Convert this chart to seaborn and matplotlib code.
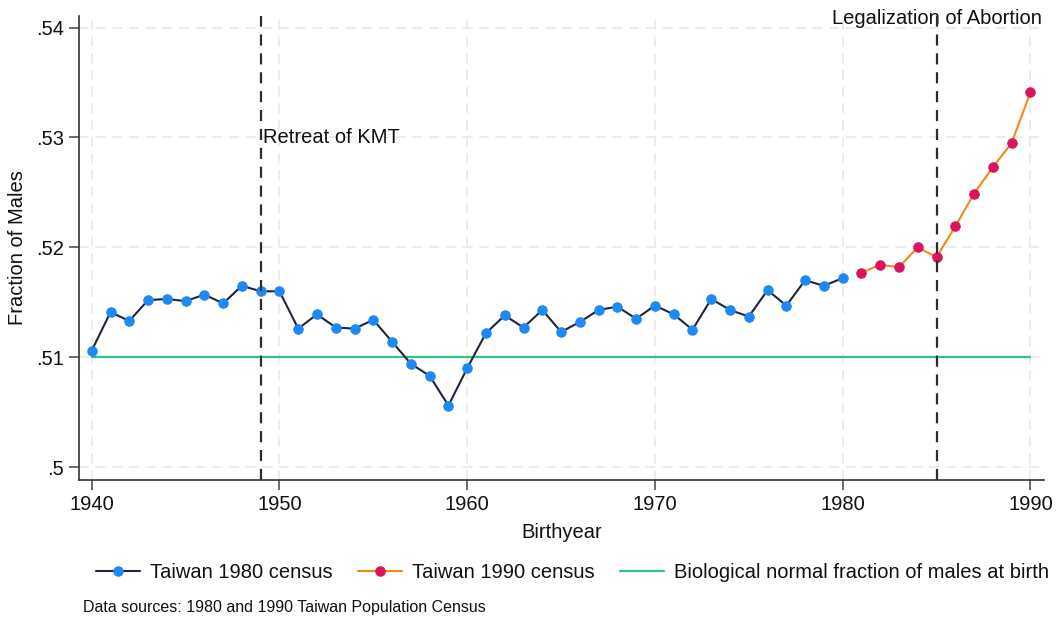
import matplotlib
matplotlib.use("Agg")
import matplotlib.pyplot as plt
import seaborn as sns
import pandas as pd
import numpy as np

years_1980 = list(range(1940, 1981))
frac_1980 = [0.5106, 0.5141, 0.5133, 0.5152, 0.5153, 0.5151, 0.5157, 0.5149, 0.5165, 0.5160,
             0.5160, 0.5126, 0.5139, 0.5127, 0.5126, 0.5134, 0.5114, 0.5094, 0.5083, 0.5056,
             0.5090, 0.5122, 0.5138, 0.5127, 0.5143, 0.5123, 0.5132, 0.5143, 0.5146, 0.5135,
             0.5147, 0.5139, 0.5125, 0.5153, 0.5143, 0.5137, 0.5161, 0.5147, 0.5170, 0.5165,
             0.5172]
years_1990 = list(range(1981, 1991))
frac_1990 = [0.5177, 0.5184, 0.5182, 0.5200, 0.5191, 0.5219, 0.5249, 0.5273, 0.5295, 0.5341]
bio_years = [1940, 1990]
bio_frac = [0.51, 0.51]

x_ticks = [1940, 1950, 1960, 1970, 1980, 1990]
y_ticks = [0.50, 0.51, 0.52, 0.53, 0.54]
y_tick_labels = [".5", ".51", ".52", ".53", ".54"]
event_years = [1949, 1985]
event_labels = ["Retreat of KMT", "Legalization of Abortion"]

sns.set_style("white")
plt.rcParams['font.family'] = ['Liberation Sans', 'DejaVu Sans']
TXT = "#111111"
FS = 14.5

fig = plt.figure(figsize=(10.6, 6.22), dpi=100)
ax = fig.add_axes([0.0745, 0.2283, 0.9105, 0.7465])

# grid
for xt in x_ticks:
    ax.axvline(xt, color="#e9e9e9", lw=1.2, ls=(0, (6, 4)), zorder=0)
for yt in y_ticks:
    ax.axhline(yt, color="#e9e9e9", lw=1.2, ls=(0, (6, 4)), zorder=0)

df80 = pd.DataFrame({"year": years_1980, "frac": frac_1980})
df90 = pd.DataFrame({"year": years_1990, "frac": frac_1990})
dfbio = pd.DataFrame({"year": bio_years, "frac": bio_frac})

sns.lineplot(data=dfbio, x="year", y="frac", ax=ax, color="#35bf8b", lw=1.6, zorder=2,
             label="Biological normal fraction of males at birth")
sns.lineplot(data=df80, x="year", y="frac", ax=ax, color="#1c2541", lw=1.5, marker="o",
             markersize=6.8, markerfacecolor="#1e88f5", markeredgecolor="#1e88f5", zorder=3,
             label="Taiwan 1980 census")
sns.lineplot(data=df90, x="year", y="frac", ax=ax, color="#ee8a17", lw=1.5, marker="o",
             markersize=6.8, markerfacecolor="#d8155c", markeredgecolor="#d8155c", zorder=3,
             label="Taiwan 1990 census")

for ey in event_years:
    ax.axvline(ey, color="#2b2b2b", lw=1.6, ls=(0, (5, 3.5)), zorder=4)

ax.text(event_years[0] + 0.1, 0.53, event_labels[0], fontsize=FS, ha="left", va="center",
        color=TXT)
ax.text(event_years[1], 0.5408, event_labels[1], fontsize=FS, ha="center", va="center",
        color=TXT)

ax.set_xlim(1939.32, 1990.73)
ax.set_ylim(0.49882, 0.54109)
ax.set_xticks(x_ticks)
ax.set_xticklabels([str(t) for t in x_ticks], fontsize=FS, color=TXT)
ax.set_yticks(y_ticks)
ax.set_yticklabels(y_tick_labels, fontsize=FS, color=TXT)
ax.tick_params(axis="both", direction="out", length=7, width=1.1, color="#444444",
               left=True, bottom=True, pad=4)
ax.set_xlabel("Birthyear", fontsize=FS, labelpad=6, color=TXT)
ax.set_ylabel("Fraction of Males", fontsize=FS, color=TXT)
ax.yaxis.set_label_coords(-0.054, 0.5)

for s in ["top", "right"]:
    ax.spines[s].set_visible(False)
for s in ["left", "bottom"]:
    ax.spines[s].set_color("#333333")
    ax.spines[s].set_linewidth(1.2)

handles, labels = ax.get_legend_handles_labels()
ax.get_legend().remove()
order = [labels.index("Taiwan 1980 census"), labels.index("Taiwan 1990 census"),
         labels.index("Biological normal fraction of males at birth")]
leg = fig.legend([handles[i] for i in order], [labels[i] for i in order], loc="center",
                 bbox_to_anchor=(0.54, 0.08), ncol=3, frameon=False, fontsize=FS,
                 handlelength=2.2, columnspacing=1.25, handletextpad=0.5)
for t in leg.get_texts():
    t.set_color(TXT)

fig.text(0.078, 0.024, "Data sources: 1980 and 1990 Taiwan Population Census", fontsize=11.5,
         ha="left", va="center", color=TXT)

fig.savefig("out.png", dpi=100)
